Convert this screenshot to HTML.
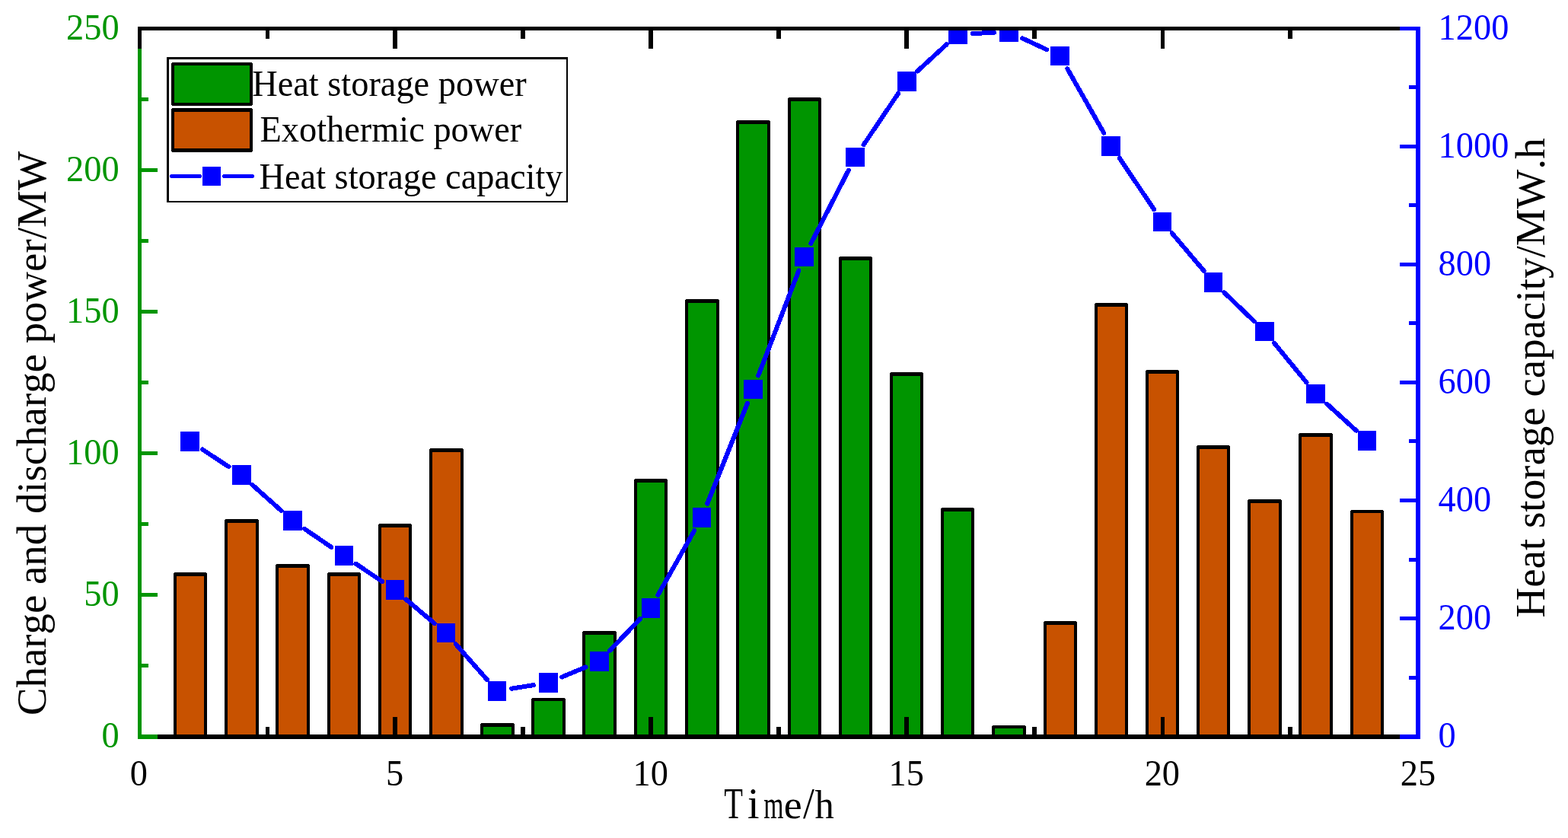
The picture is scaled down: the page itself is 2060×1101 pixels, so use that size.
<!DOCTYPE html>
<html lang="en"><head><meta charset="utf-8"><title>Heat storage chart</title>
<style>html,body{margin:0;padding:0;background:#fff}body{width:2060px;height:1101px;overflow:hidden}svg{display:block}text{font-family:"Liberation Serif","Times New Roman",serif;font-kerning:none;font-variant-ligatures:none}.cr{shape-rendering:crispEdges}</style></head><body>
<svg width="2060" height="1101" viewBox="0 0 2060 1101">
<rect width="2060" height="1101" fill="#fff"/>
<defs><clipPath id="pa"><rect x="181" y="35" width="1685" height="936"/></clipPath></defs>
<g class="cr">
<path d="M228 753H229V752H271V753H272V968H228Z" fill="#000"/>
<rect x="232" y="757" width="36" height="211" fill="#C85200"/>
<path d="M295 683H296V682H339V683H340V968H295Z" fill="#000"/>
<rect x="299" y="687" width="37" height="281" fill="#C85200"/>
<path d="M362 742H363V741H406V742H407V968H362Z" fill="#000"/>
<rect x="366" y="746" width="37" height="222" fill="#C85200"/>
<path d="M430 753H431V752H473V753H474V968H430Z" fill="#000"/>
<rect x="434" y="757" width="36" height="211" fill="#C85200"/>
<path d="M497 689H498V688H540V689H541V968H497Z" fill="#000"/>
<rect x="501" y="693" width="36" height="275" fill="#C85200"/>
<path d="M564 590H565V589H608V590H609V968H564Z" fill="#000"/>
<rect x="568" y="594" width="37" height="374" fill="#C85200"/>
<path d="M631 951H632V950H675V951H676V968H631Z" fill="#000"/>
<rect x="635" y="955" width="37" height="13" fill="#009500"/>
<path d="M698 918H699V917H742V918H743V968H698Z" fill="#000"/>
<rect x="702" y="921" width="37" height="47" fill="#009500"/>
<path d="M765 830H766V829H809V830H810V968H765Z" fill="#000"/>
<rect x="769" y="834" width="37" height="134" fill="#009500"/>
<path d="M833 630H834V629H876V630H877V968H833Z" fill="#000"/>
<rect x="837" y="634" width="36" height="334" fill="#009500"/>
<path d="M900 394H901V393H944V394H945V968H900Z" fill="#000"/>
<rect x="904" y="398" width="37" height="570" fill="#009500"/>
<path d="M967 159H968V158H1011V159H1012V968H967Z" fill="#000"/>
<rect x="971" y="163" width="37" height="805" fill="#009500"/>
<path d="M1035 129H1036V128H1078V129H1079V968H1035Z" fill="#000"/>
<rect x="1039" y="133" width="36" height="835" fill="#009500"/>
<path d="M1102 338H1103V337H1145V338H1146V968H1102Z" fill="#000"/>
<rect x="1106" y="342" width="36" height="626" fill="#009500"/>
<path d="M1169 490H1170V489H1212V490H1213V968H1169Z" fill="#000"/>
<rect x="1173" y="494" width="36" height="474" fill="#009500"/>
<path d="M1236 668H1237V667H1279V668H1280V968H1236Z" fill="#000"/>
<rect x="1240" y="672" width="36" height="296" fill="#009500"/>
<path d="M1303 954H1304V953H1347V954H1348V968H1303Z" fill="#000"/>
<rect x="1307" y="957" width="37" height="11" fill="#009500"/>
<path d="M1371 817H1372V816H1414V817H1415V968H1371Z" fill="#000"/>
<rect x="1375" y="821" width="36" height="147" fill="#C85200"/>
<path d="M1438 399H1439V398H1481V399H1482V968H1438Z" fill="#000"/>
<rect x="1442" y="403" width="36" height="565" fill="#C85200"/>
<path d="M1505 487H1506V486H1548V487H1549V968H1505Z" fill="#000"/>
<rect x="1509" y="491" width="36" height="477" fill="#C85200"/>
<path d="M1572 586H1573V585H1615V586H1616V968H1572Z" fill="#000"/>
<rect x="1576" y="590" width="36" height="378" fill="#C85200"/>
<path d="M1639 657H1640V656H1683V657H1684V968H1639Z" fill="#000"/>
<rect x="1643" y="661" width="37" height="307" fill="#C85200"/>
<path d="M1706 570H1707V569H1750V570H1751V968H1706Z" fill="#000"/>
<rect x="1710" y="574" width="37" height="394" fill="#C85200"/>
<path d="M1774 671H1775V670H1817V671H1818V968H1774Z" fill="#000"/>
<rect x="1778" y="674" width="36" height="294" fill="#C85200"/>
</g>
<g clip-path="url(#pa)">
<g class="cr" stroke="#0000FF" stroke-width="6" stroke-linecap="round" fill="none">
<line x1="265.85" y1="590.49" x2="300.48" y2="613.21"/>
<line x1="331.34" y1="636.88" x2="369.48" y2="670.92"/>
<line x1="400.13" y1="694.89" x2="435.17" y2="718.81"/>
<line x1="467.46" y1="740.68" x2="502.33" y2="764.12"/>
<line x1="533.43" y1="787.56" x2="570.84" y2="819.04"/>
<line x1="598.66" y1="846.22" x2="640.1" y2="893.18"/>
<line x1="672.25" y1="904.71" x2="700.99" y2="900.09"/>
<line x1="738.25" y1="889.5" x2="769.49" y2="876.5"/>
<line x1="800.98" y1="854.92" x2="841.24" y2="812.88"/>
<line x1="864.33" y1="781.83" x2="912.37" y2="696.87"/>
<line x1="929.21" y1="661.79" x2="981.98" y2="529.81"/>
<line x1="996.23" y1="493.51" x2="1049.44" y2="355.49"/>
<line x1="1065.37" y1="319.95" x2="1114.79" y2="223.75"/>
<line x1="1134.61" y1="190.23" x2="1180.04" y2="122.87"/>
<line x1="1205.3" y1="93.5" x2="1243.83" y2="58.1"/>
<line x1="1277.67" y1="44.06" x2="1305.95" y2="42.84"/>
<line x1="1343.1" y1="50.25" x2="1375.01" y2="65.15"/>
<line x1="1402.31" y1="90.35" x2="1450.28" y2="174.75"/>
<line x1="1470.81" y1="207.87" x2="1516.26" y2="275.33"/>
<line x1="1539.76" y1="306.38" x2="1581.8" y2="356.02"/>
<line x1="1608.45" y1="384.42" x2="1647.59" y2="422.08"/>
<line x1="1674.01" y1="450.68" x2="1716.52" y2="502.52"/>
<line x1="1743.31" y1="530.73" x2="1781.71" y2="565.67"/>
</g>
<g class="cr" fill="#0000FF">
<rect x="237" y="567" width="25" height="26"/>
<rect x="305" y="611" width="25" height="26"/>
<rect x="372" y="671" width="25" height="26"/>
<rect x="440" y="717" width="24" height="26"/>
<rect x="507" y="762" width="24" height="26"/>
<rect x="574" y="819" width="24" height="25"/>
<rect x="641" y="895" width="24" height="26"/>
<rect x="708" y="884" width="25" height="26"/>
<rect x="775" y="856" width="25" height="26"/>
<rect x="843" y="786" width="24" height="26"/>
<rect x="910" y="667" width="24" height="26"/>
<rect x="977" y="499" width="25" height="25"/>
<rect x="1044" y="325" width="25" height="25"/>
<rect x="1111" y="194" width="25" height="25"/>
<rect x="1179" y="94" width="25" height="26"/>
<rect x="1246" y="32" width="25" height="26"/>
<rect x="1313" y="29" width="25" height="26"/>
<rect x="1380" y="61" width="25" height="25"/>
<rect x="1447" y="179" width="25" height="26"/>
<rect x="1515" y="279" width="24" height="25"/>
<rect x="1582" y="358" width="24" height="26"/>
<rect x="1649" y="423" width="25" height="25"/>
<rect x="1716" y="505" width="25" height="25"/>
<rect x="1784" y="566" width="24" height="26"/>
</g></g>
<g class="cr">
<rect x="181" y="965" width="1685" height="6" fill="#000"/>
<rect x="349" y="955" width="5" height="10" fill="#000"/>
<rect x="516" y="942" width="6" height="23" fill="#000"/>
<rect x="684" y="955" width="6" height="10" fill="#000"/>
<rect x="852" y="942" width="6" height="23" fill="#000"/>
<rect x="1020" y="955" width="6" height="10" fill="#000"/>
<rect x="1188" y="942" width="6" height="23" fill="#000"/>
<rect x="1356" y="955" width="6" height="10" fill="#000"/>
<rect x="1525" y="942" width="5" height="23" fill="#000"/>
<rect x="1692" y="955" width="6" height="10" fill="#000"/>
<rect x="181" y="35" width="5" height="936" fill="#009500"/>
<rect x="181" y="965" width="26" height="6" fill="#009500"/>
<rect x="181" y="872" width="14" height="5" fill="#009500"/>
<rect x="181" y="779" width="26" height="5" fill="#009500"/>
<rect x="181" y="686" width="14" height="5" fill="#009500"/>
<rect x="181" y="593" width="26" height="5" fill="#009500"/>
<rect x="181" y="500" width="14" height="5" fill="#009500"/>
<rect x="181" y="407" width="26" height="5" fill="#009500"/>
<rect x="181" y="314" width="14" height="5" fill="#009500"/>
<rect x="181" y="221" width="26" height="5" fill="#009500"/>
<rect x="181" y="128" width="14" height="5" fill="#009500"/>
<rect x="181" y="35" width="26" height="5" fill="#009500"/>
<rect x="181" y="35" width="1685" height="5" fill="#000"/>
<rect x="181" y="35" width="5" height="29" fill="#000"/>
<rect x="349" y="40" width="5" height="11" fill="#000"/>
<rect x="516" y="40" width="6" height="24" fill="#000"/>
<rect x="684" y="40" width="6" height="11" fill="#000"/>
<rect x="852" y="40" width="6" height="24" fill="#000"/>
<rect x="1020" y="40" width="6" height="11" fill="#000"/>
<rect x="1188" y="40" width="6" height="24" fill="#000"/>
<rect x="1356" y="40" width="6" height="11" fill="#000"/>
<rect x="1525" y="40" width="5" height="24" fill="#000"/>
<rect x="1692" y="40" width="6" height="11" fill="#000"/>
<rect x="1860" y="35" width="6" height="936" fill="#0000FF"/>
<rect x="1839" y="965" width="27" height="6" fill="#0000FF"/>
<rect x="1851" y="888" width="15" height="5" fill="#0000FF"/>
<rect x="1839" y="810" width="27" height="5" fill="#0000FF"/>
<rect x="1851" y="733" width="15" height="5" fill="#0000FF"/>
<rect x="1839" y="655" width="27" height="5" fill="#0000FF"/>
<rect x="1851" y="577" width="15" height="5" fill="#0000FF"/>
<rect x="1839" y="500" width="27" height="5" fill="#0000FF"/>
<rect x="1851" y="422" width="15" height="5" fill="#0000FF"/>
<rect x="1839" y="345" width="27" height="5" fill="#0000FF"/>
<rect x="1851" y="267" width="15" height="5" fill="#0000FF"/>
<rect x="1839" y="190" width="27" height="5" fill="#0000FF"/>
<rect x="1851" y="112" width="15" height="5" fill="#0000FF"/>
<rect x="1839" y="35" width="27" height="5" fill="#0000FF"/>
</g>
<text transform="translate(156.6,981.9) scale(0.966,1)" font-size="48" text-anchor="end" fill="#009500">0</text>
<text transform="translate(156.6,795.82) scale(0.966,1)" font-size="48" text-anchor="end" fill="#009500">50</text>
<text transform="translate(156.6,609.74) scale(0.966,1)" font-size="48" text-anchor="end" fill="#009500">100</text>
<text transform="translate(156.6,423.66) scale(0.966,1)" font-size="48" text-anchor="end" fill="#009500">150</text>
<text transform="translate(156.6,237.58) scale(0.966,1)" font-size="48" text-anchor="end" fill="#009500">200</text>
<text transform="translate(156.6,51.5) scale(0.966,1)" font-size="48" text-anchor="end" fill="#009500">250</text>
<text transform="translate(1889.6,982.1) scale(0.966,1)" font-size="48" fill="#0000FF">0</text>
<text transform="translate(1889.6,827.03) scale(0.966,1)" font-size="48" fill="#0000FF">200</text>
<text transform="translate(1889.6,671.97) scale(0.966,1)" font-size="48" fill="#0000FF">400</text>
<text transform="translate(1889.6,516.9) scale(0.966,1)" font-size="48" fill="#0000FF">600</text>
<text transform="translate(1889.6,361.84) scale(0.966,1)" font-size="48" fill="#0000FF">800</text>
<text transform="translate(1889.6,206.77) scale(0.966,1)" font-size="48" fill="#0000FF">1000</text>
<text transform="translate(1889.6,51.7) scale(0.966,1)" font-size="48" fill="#0000FF">1200</text>
<text transform="translate(182.45,1032.3) scale(0.966,1)" font-size="48" text-anchor="middle" fill="#000">0</text>
<text transform="translate(518.55,1032.3) scale(0.966,1)" font-size="48" text-anchor="middle" fill="#000">5</text>
<text transform="translate(854.65,1032.3) scale(0.966,1)" font-size="48" text-anchor="middle" fill="#000">10</text>
<text transform="translate(1190.75,1032.3) scale(0.966,1)" font-size="48" text-anchor="middle" fill="#000">15</text>
<text transform="translate(1526.85,1032.3) scale(0.966,1)" font-size="48" text-anchor="middle" fill="#000">20</text>
<text transform="translate(1862.95,1032.3) scale(0.966,1)" font-size="48" text-anchor="middle" fill="#000">25</text>
<text transform="translate(60.1,940) rotate(-90) scale(0.997,1)" font-size="55">Charge and discharge power/MW</text>
<text transform="translate(2029.3,811.5) rotate(-90) scale(0.9995,1)" font-size="55">Heat storage capacity/MW.h</text>
<text y="1075.4" font-size="56" fill="#000" aria-label="Time/h"><tspan x="951.17" font-size="57" textLength="24.7" lengthAdjust="spacingAndGlyphs">T</tspan><tspan x="982.02" font-size="56" textLength="15.56" lengthAdjust="spacingAndGlyphs">i</tspan><tspan x="1003.29" font-size="52.5" textLength="26.23" lengthAdjust="spacingAndGlyphs">m</tspan><tspan x="1029.89" font-size="53" textLength="23.98" lengthAdjust="spacingAndGlyphs">e</tspan><tspan x="1054.9" font-size="58" textLength="14.9" lengthAdjust="spacingAndGlyphs">/</tspan><tspan x="1070.4" font-size="53.5" textLength="25.26" lengthAdjust="spacingAndGlyphs">h</tspan></text>
<path class="cr" fill="#000" fill-rule="evenodd" d="M219 75H746V266H219Z M222 78V264H744V78Z"/>
<g class="cr"><path d="M225 83H226V82H331V83H332V138H331V139H226V138H225Z" fill="#000"/><rect x="229" y="86" width="99" height="49" fill="#009500"/><path d="M225 143H226V142H331V143H332V199H331V200H226V199H225Z" fill="#000"/><rect x="229" y="147" width="99" height="48" fill="#C85200"/></g>
<g class="cr" stroke="#0000FF" stroke-width="5.5" stroke-linecap="round"><line x1="226" y1="231.6" x2="262" y2="231.6"/><line x1="295" y1="231.6" x2="331" y2="231.6"/></g>
<rect class="cr" x="266" y="219" width="24" height="25" fill="#0000FF"/>
<text transform="translate(331.2,126.2) scale(0.966,1)" font-size="48">Heat storage power</text>
<text transform="translate(341.5,186.3) scale(0.966,1)" font-size="48">Exothermic power</text>
<text transform="translate(340.5,248.2) scale(0.966,1)" font-size="48">Heat storage capacity</text>
</svg></body></html>
